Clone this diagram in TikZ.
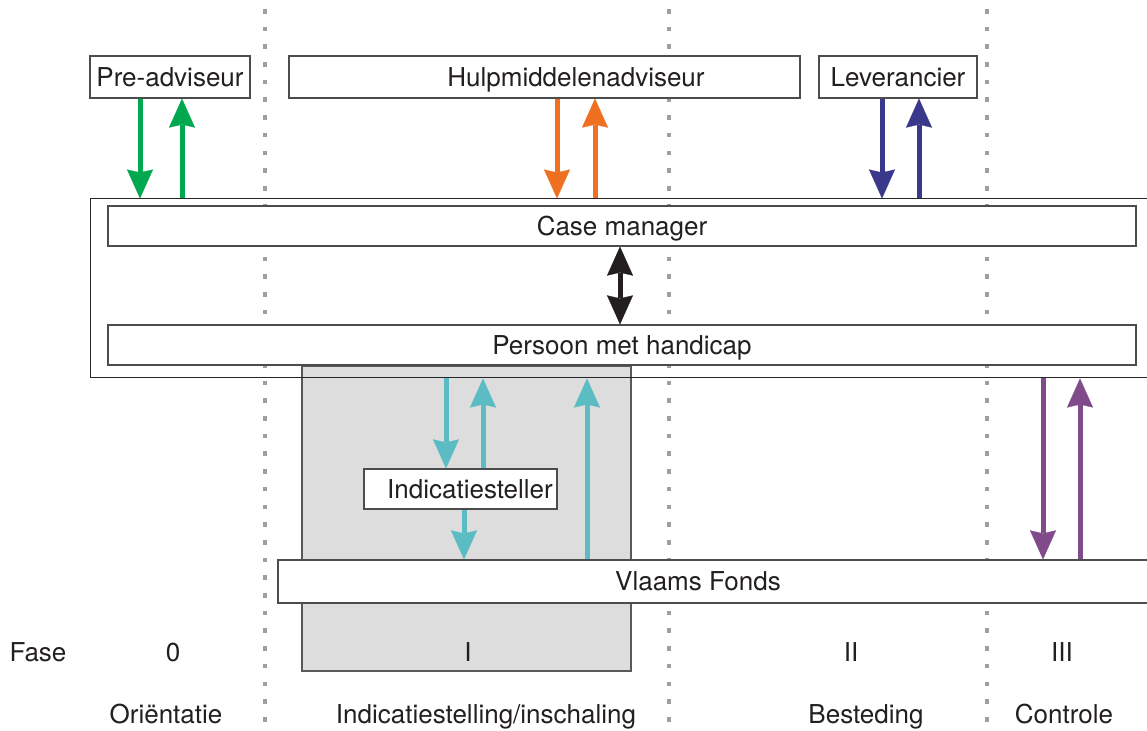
\documentclass[tikz,border=0pt]{standalone}
\usepackage{fontspec}
\setmainfont{TeX Gyre Heros}
\usetikzlibrary{arrows.meta}
\definecolor{pgreen}{RGB}{0,168,80}
\definecolor{porange}{RGB}{240,112,33}
\definecolor{pnavy}{RGB}{58,56,138}
\definecolor{pcyan}{RGB}{91,188,196}
\definecolor{ppurple}{RGB}{127,75,139}
\definecolor{pblack}{RGB}{35,31,32}
\definecolor{pdots}{RGB}{155,160,166}
\definecolor{pfill}{RGB}{221,221,221}
\tikzset{
  box/.style={draw=black!70, fill=white, line width=0.6pt, inner sep=0pt,
    text height=9.4pt, text depth=0pt, text=pblack},
  outerbox/.style={draw=black!85, line width=0.5pt, inner sep=0pt},
  lbl/.style={text=pblack, inner sep=0pt, text height=9.4pt, text depth=0pt},
  flow/.style={line width=2.5pt, -{Stealth[length=14.5pt,width=13pt,inset=1.5pt,line width=0.1pt]}},
  twoway/.style={line width=2.5pt, {Stealth[length=14.5pt,width=13pt,inset=1.5pt,line width=0.1pt]}-{Stealth[length=14.5pt,width=13pt,inset=1.5pt,line width=0.1pt]}},
  phase/.style={pdots, line width=2.3pt, dash pattern=on 2.3pt off 6.55pt}
}
\begin{document}
\begin{tikzpicture}[x=0.5pt, y=-0.5pt, font=\fontsize{13}{15}\selectfont]
  \useasboundingbox (0,0) rectangle (1147,731);
  \clip (0,0) rectangle (1147,731);

  % phase separators
  \foreach \x in {265,669,987}
    \draw[phase] (\x,9) -- (\x,731);

  % phase I block
  \draw[fill=pfill, draw=black!65, line width=0.6pt] (302,366) rectangle (631,671);

  % actors
  \node[outerbox, minimum width=535pt, minimum height=89.5pt] (outer) at (625,288.5) {};
  \node[box, minimum width=80pt, minimum height=21pt] (pre) at (170,77) {Pre-adviseur};
  \node[box, minimum width=255.5pt, minimum height=21pt,
        label={[lbl, xshift=15.75pt]center:Hulpmiddelenadviseur}] (hulp) at (544.5,77) {};
  \node[box, minimum width=79pt, minimum height=21pt] (lev) at (898,77) {Leverancier};
  \node[box, minimum width=514pt, minimum height=20pt] (case) at (622,226) {Case manager};
  \node[box, minimum width=514pt, minimum height=20pt] (pers) at (622,345) {Persoon met handicap};
  \node[box, minimum width=96.5pt, minimum height=20pt,
        label={[lbl, xshift=4.75pt]center:Indicatiesteller}] (ind) at (460.5,489) {};
  \node[box, minimum width=441pt, minimum height=21.5pt,
        label={[lbl, xshift=-10.5pt]center:Vlaams Fonds}] (vf) at (719,581.5) {};

  % arrow columns
  \coordinate (g1) at (140,0);
  \coordinate (g2) at (182,0);
  \coordinate (o1) at (557,0);
  \coordinate (o2) at (595,0);
  \coordinate (n1) at (882,0);
  \coordinate (n2) at (919,0);
  \coordinate (k1) at (620,0);
  \coordinate (c1) at (446,0);
  \coordinate (c2) at (483,0);
  \coordinate (c3) at (464,0);
  \coordinate (c4) at (587,0);
  \coordinate (p1) at (1043,0);
  \coordinate (p2) at (1080,0);

  \draw[flow, pgreen] (pre.south -| g1) -- (outer.north -| g1);
  \draw[flow, pgreen] (outer.north -| g2) -- (pre.south -| g2);
  \draw[flow, porange] (hulp.south -| o1) -- (outer.north -| o1);
  \draw[flow, porange] (outer.north -| o2) -- (hulp.south -| o2);
  \draw[flow, pnavy] (lev.south -| n1) -- (outer.north -| n1);
  \draw[flow, pnavy] (outer.north -| n2) -- (lev.south -| n2);
  \draw[twoway, pblack] (case.south -| k1) -- (pers.north -| k1);
  \draw[flow, pcyan] (outer.south -| c1) -- (ind.north -| c1);
  \draw[flow, pcyan] (ind.north -| c2) -- (outer.south -| c2);
  \draw[flow, pcyan] (ind.south -| c3) -- (vf.north -| c3);
  \draw[flow, pcyan] (vf.north -| c4) -- (outer.south -| c4);
  \draw[flow, ppurple] (outer.south -| p1) -- (vf.north -| p1);
  \draw[flow, ppurple] (vf.north -| p2) -- (outer.south -| p2);

  % phases
  \node[lbl] (fase) at (38,652) {Fase};
  \node[lbl] (f0) at (173,652) {0};
  \node[lbl] (f1) at (468,652) {I};
  \node[lbl] (f2) at (851,652) {II};
  \node[lbl] (f3) at (1062,652) {III};
  \node[lbl] (n0) at (166,714) {Oriëntatie};
  \node[lbl] (n1t) at (486,714) {Indicatiestelling/inschaling};
  \node[lbl] (n2t) at (866,714) {Besteding};
  \node[lbl] (n3t) at (1064,714) {Controle};
\end{tikzpicture}
\end{document}
